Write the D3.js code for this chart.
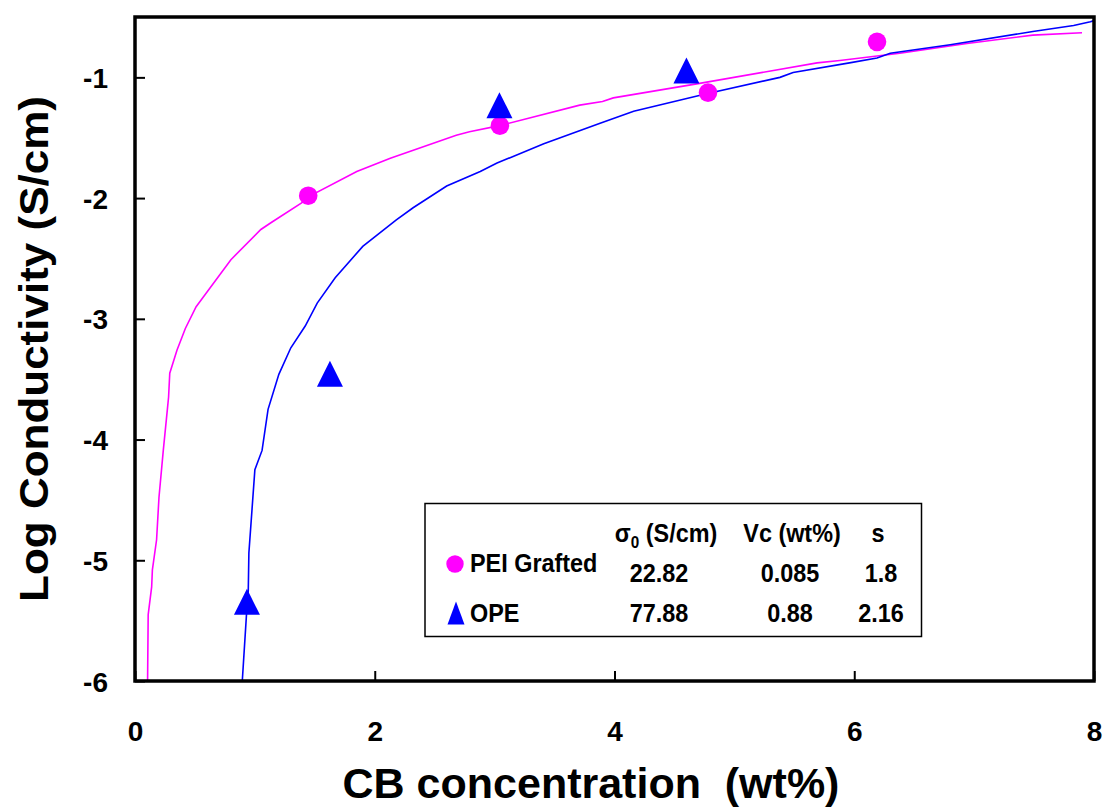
<!DOCTYPE html>
<html>
<head>
<meta charset="utf-8">
<script src="https://cdn.jsdelivr.net/npm/d3@7"></script>
<style>
  html, body { margin: 0; padding: 0; background: #fff; }
  svg text { font-family: "Liberation Sans", Arial, sans-serif; font-weight: bold; }
</style>
</head>
<body>
<svg id="chart" width="1107" height="808"></svg>
<script>
// Measured conductivity points
const peiX = [1.445, 3.044, 4.78, 6.19];
const peiY = [-1.98, -1.40, -1.126, -0.706];
const opeX = [0.934, 1.626, 3.04, 4.60];
const opeY = [-5.344, -3.455, -1.23, -0.944];

// Percolation fit curves (sampled)
const peiFitX = [0.105, 0.11, 0.139, 0.145, 0.18, 0.20, 0.236, 0.27, 0.28, 0.29, 0.35, 0.42, 0.51, 0.57, 0.80, 1.05, 1.14, 1.39, 1.445, 1.85, 2.13, 2.68, 2.79, 3.04, 3.71, 3.90, 3.99, 4.71, 5.69, 5.88, 6.38, 6.94, 7.49, 7.90];
const peiFitY = [-6.0, -5.45, -5.22, -5.08, -4.83, -4.48, -4.09, -3.75, -3.65, -3.45, -3.26, -3.08, -2.90, -2.82, -2.51, -2.26, -2.20, -2.04, -1.99, -1.78, -1.67, -1.48, -1.45, -1.40, -1.23, -1.20, -1.17, -1.05, -0.88, -0.86, -0.80, -0.72, -0.65, -0.63];
const opeFitX = [0.895, 0.93, 0.945, 0.95, 1.0, 1.06, 1.11, 1.20, 1.30, 1.42, 1.52, 1.67, 1.90, 2.18, 2.32, 2.60, 2.88, 3.02, 3.41, 3.88, 4.16, 4.75, 5.38, 5.49, 5.96, 6.19, 6.30, 6.80, 7.49, 7.83, 7.97, 8.0];
const opeFitY = [-6.0, -5.45, -5.25, -4.94, -4.25, -4.09, -3.75, -3.46, -3.24, -3.06, -2.87, -2.66, -2.40, -2.18, -2.08, -1.90, -1.78, -1.71, -1.55, -1.38, -1.28, -1.14, -1.00, -0.96, -0.88, -0.84, -0.80, -0.73, -0.62, -0.57, -0.54, -0.53];

// Axis ticks
const xTicks = [0, 2, 4, 6, 8];
const yTicks = [-6, -5, -4, -3, -2, -1];

// Fit parameter table
const tableHeaders = ["(S/cm)", "Vc (wt%)", "s"];
const seriesNames = ["PEI Grafted", "OPE"];
const sigma0 = ["22.82", "77.88"];
const vc = ["0.085", "0.88"];
const sExp = ["1.8", "2.16"];

const colors = { pei: "#ff00ff", ope: "#0000ff" };

const svg = d3.select("#chart");
const plotLeft = 135, plotRight = 1094, plotTop = 17, plotBottom = 681;

const x = d3.scaleLinear().domain([0, 8]).range([plotLeft, plotRight]);
const y = d3.scaleLinear().domain([-6, -0.5]).range([plotBottom, plotTop]);

// Axes with inward ticks
const xAxis = d3.axisBottom(x).tickValues(xTicks).tickFormat(d3.format("d"))
  .tickSizeInner(-10).tickSizeOuter(0).tickPadding(40);
const yAxis = d3.axisLeft(y).tickValues(yTicks).tickFormat(d => d3.format("d")(d).replace("\u2212", "-"))
  .tickSizeInner(-10).tickSizeOuter(0).tickPadding(27);

const gx = svg.append("g").attr("transform", `translate(0,${plotBottom})`).call(xAxis);
const gy = svg.append("g").attr("transform", `translate(${plotLeft},0)`).call(yAxis);
[gx, gy].forEach(g => {
  g.select(".domain").remove();
  g.selectAll(".tick line").attr("stroke", "#000").attr("stroke-width", 2);
  g.selectAll(".tick text").attr("fill", "#000").style("font-size", "28px");
});
gy.selectAll(".tick text").attr("dy", "0.36em");
gx.selectAll(".tick text").attr("dy", "0.71em");

// Fit curves
const line = d3.line().x(d => x(d[0])).y(d => y(d[1]));
svg.append("path")
  .datum(peiFitX.map((v, i) => [v, peiFitY[i]]))
  .attr("d", line).attr("fill", "none").attr("stroke", colors.pei).attr("stroke-width", 1.6);
svg.append("path")
  .datum(opeFitX.map((v, i) => [v, opeFitY[i]]))
  .attr("d", line).attr("fill", "none").attr("stroke", colors.ope).attr("stroke-width", 1.6);

// Upward triangle marker of a given width and height, centred on its box
const triangle = (w, h) => `M0,${-h / 2}L${w / 2},${h / 2}L${-w / 2},${h / 2}Z`;

// Markers
svg.append("g").selectAll("circle")
  .data(peiX.map((v, i) => [v, peiY[i]]))
  .join("circle")
  .attr("cx", d => x(d[0])).attr("cy", d => y(d[1])).attr("r", 9.3)
  .attr("fill", colors.pei);
svg.append("g").selectAll("path")
  .data(opeX.map((v, i) => [v, opeY[i]]))
  .join("path")
  .attr("d", triangle(26, 26))
  .attr("transform", d => `translate(${x(d[0])},${y(d[1])})`)
  .attr("fill", colors.ope);

// Plot frame
svg.append("rect")
  .attr("x", plotLeft).attr("y", plotTop).attr("width", plotRight - plotLeft).attr("height", plotBottom - plotTop)
  .attr("fill", "none").attr("stroke", "#000").attr("stroke-width", 3.5);

// Axis titles
svg.append("text")
  .attr("x", 591).attr("y", 798).attr("text-anchor", "middle")
  .style("font-size", "43px").style("white-space", "pre")
  .text("CB concentration  (wt%)");
svg.append("text")
  .attr("transform", `translate(48,${(plotTop + plotBottom) / 2}) rotate(-90) scale(1,0.92)`)
  .attr("text-anchor", "middle")
  .style("font-size", "44px")
  .text("Log Conductivity (S/cm)");

// Parameter table
const tbl = svg.append("g");
tbl.append("rect")
  .attr("x", 425).attr("y", 503.5).attr("width", 496.5).attr("height", 133)
  .attr("fill", "#fff").attr("stroke", "#000").attr("stroke-width", 1.5);

// Table text is slightly condensed horizontally
const fs = "26px";
const tText = (px, py, anchor) => tbl.append("text")
  .attr("transform", `translate(${px},${py}) scale(0.9,1)`)
  .attr("text-anchor", anchor).style("font-size", fs);

const colX = [659, 790, 881];
const h0 = tText(666, 542, "middle");
h0.append("tspan").text("\u03c3");
h0.append("tspan").attr("dy", 6).style("font-size", "17px").text("0");
h0.append("tspan").attr("dy", -6).text(" " + tableHeaders[0]);
tText(792, 542, "middle").text(tableHeaders[1]);
tText(878, 542, "middle").text(tableHeaders[2]);

const rowName = [571.5, 621.5];
const rowVal = [581.5, 621.5];
seriesNames.forEach((n, i) => {
  tText(470, rowName[i], "start").text(n);
  [sigma0[i], vc[i], sExp[i]].forEach((v, j) => {
    tText(colX[j], rowVal[i], "middle").text(v);
  });
});
tbl.append("circle").attr("cx", 455).attr("cy", 564).attr("r", 8.7).attr("fill", colors.pei);
tbl.append("path").attr("d", triangle(17, 23))
  .attr("transform", "translate(456,613)").attr("fill", colors.ope);
</script>
</body>
</html>
